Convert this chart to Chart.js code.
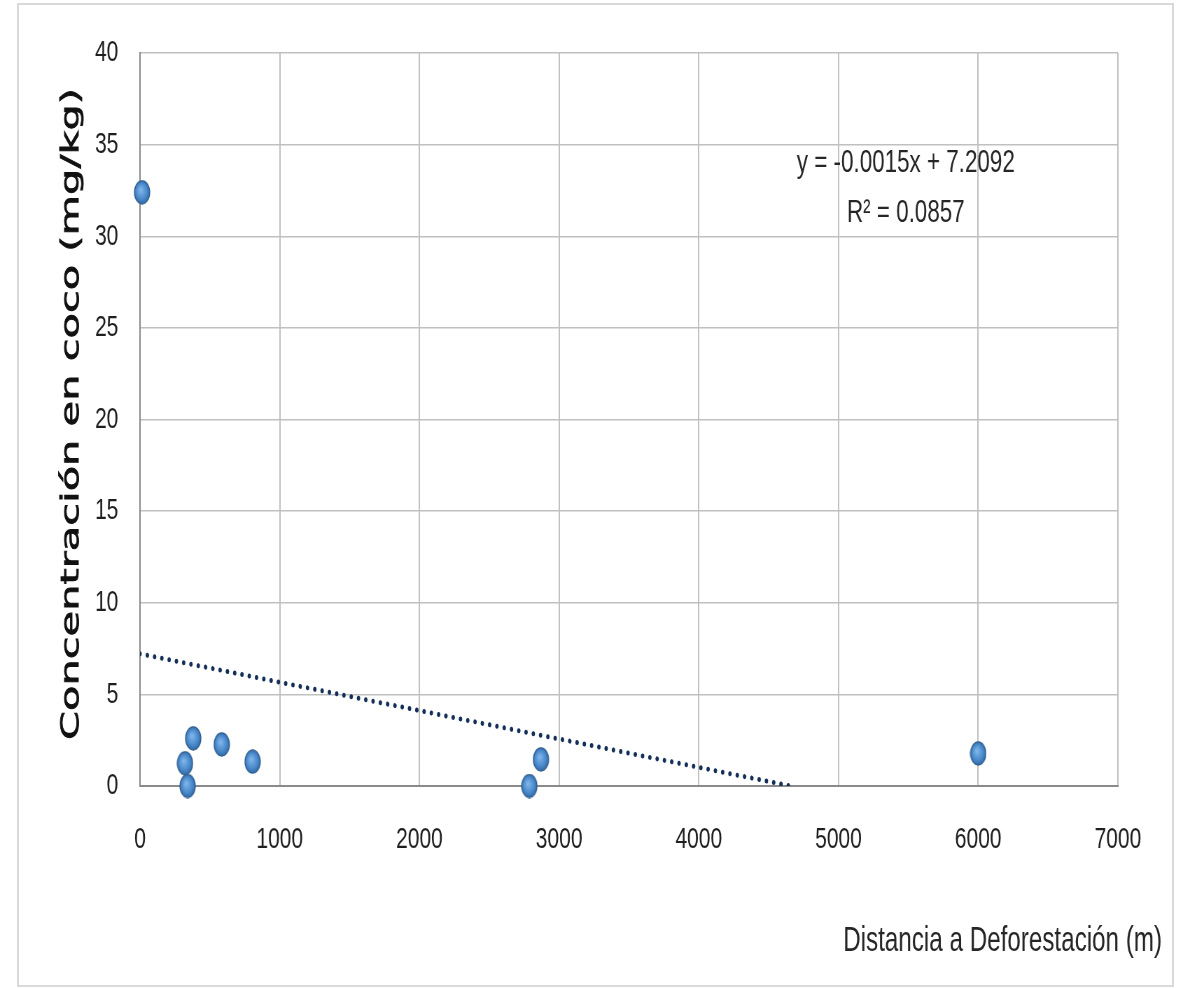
<!DOCTYPE html>
<html>
<head>
<meta charset="utf-8">
<script src="https://cdn.jsdelivr.net/npm/chart.js@4.4.1/dist/chart.umd.min.js"></script>
<style>
  html, body { margin: 0; padding: 0; background: #fff; overflow: hidden; }
  #frame { position: absolute; left: 17px; top: 3px; width: 1153px; height: 980px; border: 2px solid #d9d9d9; }
  /* the original picture is squeezed sideways, so the chart is drawn wide and scaled down */
  #wrap { position: absolute; left: 0; top: 0; width: 1696px; height: 988px; transform: scaleX(0.7); transform-origin: 0 0; }
</style>
</head>
<body>
<div id="frame"></div>
<div id="wrap"><canvas id="chart"></canvas></div>
<script>
const distancia = [15, 322, 341, 381, 585, 806, 2787, 2870, 6000];
const concentracion = [32.4, 1.24, 0, 2.6, 2.27, 1.33, 0, 1.45, 1.78];

const xTitle = 'Distancia a Deforestación (m)';
const yTitle = 'Concentración en coco (mg/kg)';
const equationText = 'y = -0.0015x + 7.2092';
const r2Text = 'R² = 0.0857';

// linear trendline (least squares), cut where it reaches the x axis
const n = distancia.length;
const mx = distancia.reduce((a, b) => a + b, 0) / n;
const my = concentracion.reduce((a, b) => a + b, 0) / n;
let sxy = 0, sxx = 0;
for (let i = 0; i < n; i++) {
    sxy += (distancia[i] - mx) * (concentracion[i] - my);
    sxx += (distancia[i] - mx) * (distancia[i] - mx);
}
const slope = sxy / sxx;
const intercept = my - slope * mx;
const trendEnd = -intercept / slope;

function makeMarker() {
    const c = document.createElement('canvas');
    c.width = 24; c.height = 25;
    const g = c.getContext('2d');
    const grad = g.createRadialGradient(10, 10, 1, 12, 12.5, 12.5);
    grad.addColorStop(0, '#7db4ea');
    grad.addColorStop(0.6, '#4a89cb');
    grad.addColorStop(1, '#2c629c');
    g.beginPath();
    g.ellipse(12, 12.5, 11, 11.6, 0, 0, Math.PI * 2);
    g.fillStyle = grad;
    g.fill();
    g.lineWidth = 1.2;
    g.strokeStyle = '#2b5a8a';
    g.stroke();
    return c;
}

// axis titles and the equation box
const textPlugin = {
    id: 'texts',
    afterDraw(chart) {
        const ctx = chart.ctx;
        const area = chart.chartArea;
        ctx.save();

        // y title, rotated and stretched along its length like the original
        ctx.fillStyle = '#111';
        ctx.strokeStyle = '#111';
        ctx.lineWidth = 0.9;
        ctx.font = '35px "DejaVu Sans"';
        let w = ctx.measureText(yTitle).width;
        ctx.translate(103, 414);
        ctx.rotate(-Math.PI / 2);
        ctx.scale(652 / w, 1);
        ctx.textAlign = 'center';
        ctx.textBaseline = 'middle';
        ctx.fillText(yTitle, 0, 0);
        ctx.strokeText(yTitle, 0, 0);
        ctx.setTransform(1, 0, 0, 1, 0, 0);

        // x title, right side under the axis
        ctx.fillStyle = '#262626';
        ctx.font = '28px "Liberation Sans"';
        w = ctx.measureText(xTitle).width;
        const size = 28 * 456 / w;
        ctx.font = size.toFixed(1) + 'px "Liberation Sans"';
        ctx.textAlign = 'right';
        ctx.textBaseline = 'middle';
        ctx.fillText(xTitle, 1660, area.bottom + 155);

        // trendline label
        ctx.font = '32px "Liberation Sans"';
        ctx.textAlign = 'center';
        ctx.fillText(equationText, 1294, 163);
        ctx.fillText(r2Text, 1294, 213);
        ctx.restore();
    }
};

const ctx = document.getElementById('chart').getContext('2d');
const chart = new Chart(ctx, {
    type: 'scatter',
    data: {
        datasets: [{
            label: 'Concentración',
            data: distancia.map((d, i) => ({ x: d, y: concentracion[i] })),
            pointStyle: makeMarker(),
            pointRadius: 12,
            clip: false,
            order: 1
        }, {
            label: 'Lineal',
            type: 'line',
            data: [{ x: 0, y: intercept }, { x: trendEnd, y: 0 }],
            borderColor: '#142f57',
            borderWidth: 5,
            borderDash: [0.01, 10.5],
            borderCapStyle: 'round',
            pointRadius: 0,
            fill: false,
            order: 2
        }]
    },
    options: {
        responsive: true,
        maintainAspectRatio: false,
        devicePixelRatio: 1,
        animation: false,
        layout: {
            padding: { left: 0, top: 53, right: 99, bottom: 0 }
        },
        plugins: {
            legend: { display: false },
            tooltip: { enabled: false }
        },
        scales: {
            x: {
                type: 'linear',
                min: 0,
                max: 7000,
                afterFit: s => { s.height = 202; },
                ticks: {
                    stepSize: 1000,
                    padding: 36,
                    color: '#1f1f1f',
                    font: { family: 'Liberation Sans', size: 30 },
                    callback: v => String(v)
                },
                grid: { color: '#c0c0c0', lineWidth: 2, drawTicks: false },
                border: { color: '#8a8a8a', width: 2 }
            },
            y: {
                min: 0,
                max: 40,
                afterFit: s => { s.width = 200; },
                ticks: {
                    stepSize: 5,
                    padding: 31,
                    color: '#1f1f1f',
                    font: { family: 'Liberation Sans', size: 30 }
                },
                grid: { color: '#c0c0c0', lineWidth: 1.5, drawTicks: false },
                border: { color: '#8a8a8a', width: 2 }
            }
        }
    },
    plugins: [textPlugin]
});
</script>
</body>
</html>
